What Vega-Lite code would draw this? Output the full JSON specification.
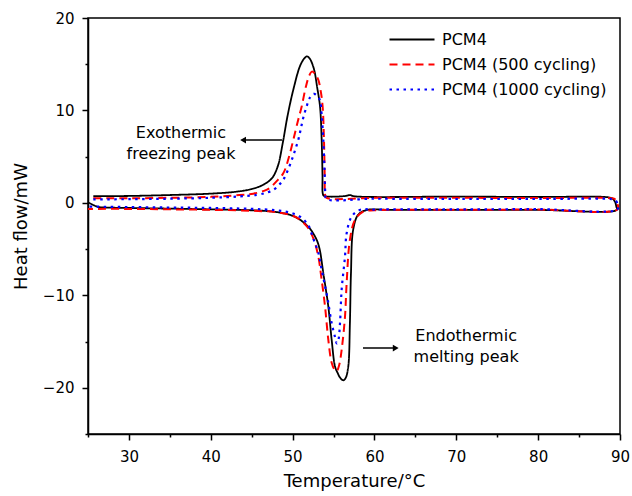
{
  "$schema": "https://vega.github.io/schema/vega-lite/v6.json",
  "width": 532,
  "height": 416,
  "autosize": {"type": "none"},
  "padding": {"left": 88, "top": 18, "right": 12, "bottom": 62},
  "background": "white",
  "config": {
    "font": "DejaVu Sans",
    "view": {"stroke": "black", "strokeWidth": 1.5},
    "axis": {
      "grid": false,
      "domainColor": "black",
      "domainWidth": 1.5,
      "tickColor": "black",
      "tickWidth": 1.5,
      "labelColor": "black",
      "labelFont": "DejaVu Sans",
      "labelFontSize": 15,
      "titleColor": "black",
      "titleFont": "DejaVu Sans",
      "titleFontSize": 18,
      "titleFontWeight": "normal"
    }
  },
  "layer": [
    {
      "data": {
        "values": [
          {"s": "PCM4", "i": 1, "x": 25.65, "y": 0.72},
          {"s": "PCM4", "i": 2, "x": 30, "y": 0.75},
          {"s": "PCM4", "i": 3, "x": 35, "y": 0.85},
          {"s": "PCM4", "i": 4, "x": 40, "y": 1.0},
          {"s": "PCM4", "i": 5, "x": 43, "y": 1.2},
          {"s": "PCM4", "i": 6, "x": 45, "y": 1.5},
          {"s": "PCM4", "i": 7, "x": 46.5, "y": 2.0},
          {"s": "PCM4", "i": 8, "x": 47.5, "y": 2.7},
          {"s": "PCM4", "i": 9, "x": 48.2, "y": 4.0},
          {"s": "PCM4", "i": 10, "x": 48.8, "y": 6.5},
          {"s": "PCM4", "i": 11, "x": 49.4, "y": 9.5},
          {"s": "PCM4", "i": 12, "x": 50.1, "y": 12.3},
          {"s": "PCM4", "i": 13, "x": 50.9, "y": 14.8},
          {"s": "PCM4", "i": 14, "x": 51.4, "y": 15.6},
          {"s": "PCM4", "i": 15, "x": 51.75, "y": 15.85},
          {"s": "PCM4", "i": 16, "x": 52.1, "y": 15.6},
          {"s": "PCM4", "i": 17, "x": 52.6, "y": 14.5},
          {"s": "PCM4", "i": 18, "x": 53.0, "y": 12.5},
          {"s": "PCM4", "i": 19, "x": 53.35, "y": 10.4},
          {"s": "PCM4", "i": 20, "x": 53.55, "y": 6.8},
          {"s": "PCM4", "i": 21, "x": 53.65, "y": 3.0},
          {"s": "PCM4", "i": 22, "x": 53.7, "y": 0.95},
          {"s": "PCM4", "i": 23, "x": 53.85, "y": 0.75},
          {"s": "PCM4", "i": 24, "x": 56.5, "y": 0.75},
          {"s": "PCM4", "i": 25, "x": 57.0, "y": 0.85},
          {"s": "PCM4", "i": 26, "x": 57.5, "y": 0.72},
          {"s": "PCM4", "i": 27, "x": 70, "y": 0.68},
          {"s": "PCM4", "i": 28, "x": 80, "y": 0.64},
          {"s": "PCM4", "i": 29, "x": 88.6, "y": 0.6},
          {"s": "PCM4", "i": 30, "x": 89.1, "y": 0.45},
          {"s": "PCM4", "i": 31, "x": 89.4, "y": 0.1},
          {"s": "PCM4", "i": 32, "x": 89.55, "y": -0.4},
          {"s": "PCM4", "i": 33, "x": 89.6, "y": -0.76},
          {"s": "PCM4", "i": 34, "x": 80, "y": -0.76},
          {"s": "PCM4", "i": 35, "x": 70, "y": -0.76},
          {"s": "PCM4", "i": 36, "x": 62, "y": -0.76},
          {"s": "PCM4", "i": 37, "x": 59.0, "y": -0.78},
          {"s": "PCM4", "i": 38, "x": 58.0, "y": -1.3},
          {"s": "PCM4", "i": 39, "x": 57.4, "y": -2.9},
          {"s": "PCM4", "i": 40, "x": 57.13, "y": -7.6},
          {"s": "PCM4", "i": 41, "x": 57.0, "y": -13.0},
          {"s": "PCM4", "i": 42, "x": 56.8, "y": -17.7},
          {"s": "PCM4", "i": 43, "x": 56.5, "y": -18.9},
          {"s": "PCM4", "i": 44, "x": 56.2, "y": -19.2},
          {"s": "PCM4", "i": 45, "x": 55.8, "y": -18.9},
          {"s": "PCM4", "i": 46, "x": 55.5, "y": -18.4},
          {"s": "PCM4", "i": 47, "x": 55.18, "y": -17.7},
          {"s": "PCM4", "i": 48, "x": 54.77, "y": -14.8},
          {"s": "PCM4", "i": 49, "x": 54.36, "y": -11.2},
          {"s": "PCM4", "i": 50, "x": 53.75, "y": -7.6},
          {"s": "PCM4", "i": 51, "x": 53.3, "y": -5.0},
          {"s": "PCM4", "i": 52, "x": 52.94, "y": -4.0},
          {"s": "PCM4", "i": 53, "x": 52.3, "y": -3.0},
          {"s": "PCM4", "i": 54, "x": 51.7, "y": -2.4},
          {"s": "PCM4", "i": 55, "x": 50.7, "y": -1.7},
          {"s": "PCM4", "i": 56, "x": 49.7, "y": -1.3},
          {"s": "PCM4", "i": 57, "x": 47.6, "y": -0.94},
          {"s": "PCM4", "i": 58, "x": 45, "y": -0.8},
          {"s": "PCM4", "i": 59, "x": 43.5, "y": -0.76},
          {"s": "PCM4", "i": 60, "x": 40, "y": -0.7},
          {"s": "PCM4", "i": 61, "x": 35, "y": -0.62},
          {"s": "PCM4", "i": 62, "x": 30, "y": -0.55},
          {"s": "PCM4", "i": 63, "x": 27, "y": -0.5},
          {"s": "PCM4", "i": 64, "x": 26.3, "y": -0.45},
          {"s": "PCM4", "i": 65, "x": 25.7, "y": -0.25},
          {"s": "PCM4", "i": 66, "x": 25.1, "y": 0.02},

          {"s": "PCM4 (500 cycling)", "i": 1, "x": 25.65, "y": 0.5},
          {"s": "PCM4 (500 cycling)", "i": 2, "x": 30, "y": 0.5},
          {"s": "PCM4 (500 cycling)", "i": 3, "x": 35, "y": 0.55},
          {"s": "PCM4 (500 cycling)", "i": 4, "x": 40, "y": 0.65},
          {"s": "PCM4 (500 cycling)", "i": 5, "x": 43.5, "y": 0.85},
          {"s": "PCM4 (500 cycling)", "i": 6, "x": 45.2, "y": 1.0},
          {"s": "PCM4 (500 cycling)", "i": 7, "x": 46.5, "y": 1.3},
          {"s": "PCM4 (500 cycling)", "i": 8, "x": 47.2, "y": 1.6},
          {"s": "PCM4 (500 cycling)", "i": 9, "x": 48.0, "y": 2.3},
          {"s": "PCM4 (500 cycling)", "i": 10, "x": 48.86, "y": 3.2},
          {"s": "PCM4 (500 cycling)", "i": 11, "x": 49.5, "y": 4.8},
          {"s": "PCM4 (500 cycling)", "i": 12, "x": 50.08, "y": 6.8},
          {"s": "PCM4 (500 cycling)", "i": 13, "x": 50.6, "y": 8.7},
          {"s": "PCM4 (500 cycling)", "i": 14, "x": 51.1, "y": 10.4},
          {"s": "PCM4 (500 cycling)", "i": 15, "x": 51.6, "y": 12.5},
          {"s": "PCM4 (500 cycling)", "i": 16, "x": 52.0, "y": 13.7},
          {"s": "PCM4 (500 cycling)", "i": 17, "x": 52.35, "y": 14.2},
          {"s": "PCM4 (500 cycling)", "i": 18, "x": 52.7, "y": 14.0},
          {"s": "PCM4 (500 cycling)", "i": 19, "x": 53.14, "y": 13.3},
          {"s": "PCM4 (500 cycling)", "i": 20, "x": 53.45, "y": 12.0},
          {"s": "PCM4 (500 cycling)", "i": 21, "x": 53.67, "y": 10.4},
          {"s": "PCM4 (500 cycling)", "i": 22, "x": 53.83, "y": 6.8},
          {"s": "PCM4 (500 cycling)", "i": 23, "x": 53.92, "y": 3.0},
          {"s": "PCM4 (500 cycling)", "i": 24, "x": 53.96, "y": 1.0},
          {"s": "PCM4 (500 cycling)", "i": 25, "x": 54.1, "y": 0.57},
          {"s": "PCM4 (500 cycling)", "i": 26, "x": 60, "y": 0.55},
          {"s": "PCM4 (500 cycling)", "i": 27, "x": 70, "y": 0.55},
          {"s": "PCM4 (500 cycling)", "i": 28, "x": 80, "y": 0.52},
          {"s": "PCM4 (500 cycling)", "i": 29, "x": 89.0, "y": 0.5},
          {"s": "PCM4 (500 cycling)", "i": 30, "x": 89.4, "y": 0.4},
          {"s": "PCM4 (500 cycling)", "i": 31, "x": 89.65, "y": 0.0},
          {"s": "PCM4 (500 cycling)", "i": 32, "x": 89.7, "y": -0.7},
          {"s": "PCM4 (500 cycling)", "i": 33, "x": 80, "y": -0.72},
          {"s": "PCM4 (500 cycling)", "i": 34, "x": 70, "y": -0.75},
          {"s": "PCM4 (500 cycling)", "i": 35, "x": 60, "y": -0.8},
          {"s": "PCM4 (500 cycling)", "i": 36, "x": 58.63, "y": -0.94},
          {"s": "PCM4 (500 cycling)", "i": 37, "x": 57.62, "y": -1.84},
          {"s": "PCM4 (500 cycling)", "i": 38, "x": 57.0, "y": -4.0},
          {"s": "PCM4 (500 cycling)", "i": 39, "x": 56.6, "y": -8.7},
          {"s": "PCM4 (500 cycling)", "i": 40, "x": 56.4, "y": -12.3},
          {"s": "PCM4 (500 cycling)", "i": 41, "x": 55.99, "y": -15.9},
          {"s": "PCM4 (500 cycling)", "i": 42, "x": 55.7, "y": -17.5},
          {"s": "PCM4 (500 cycling)", "i": 43, "x": 55.38, "y": -18.2},
          {"s": "PCM4 (500 cycling)", "i": 44, "x": 55.1, "y": -18.0},
          {"s": "PCM4 (500 cycling)", "i": 45, "x": 54.77, "y": -17.3},
          {"s": "PCM4 (500 cycling)", "i": 46, "x": 54.36, "y": -14.8},
          {"s": "PCM4 (500 cycling)", "i": 47, "x": 53.96, "y": -11.2},
          {"s": "PCM4 (500 cycling)", "i": 48, "x": 53.5, "y": -8.0},
          {"s": "PCM4 (500 cycling)", "i": 49, "x": 53.14, "y": -5.8},
          {"s": "PCM4 (500 cycling)", "i": 50, "x": 52.6, "y": -4.0},
          {"s": "PCM4 (500 cycling)", "i": 51, "x": 51.8, "y": -2.6},
          {"s": "PCM4 (500 cycling)", "i": 52, "x": 50.7, "y": -1.7},
          {"s": "PCM4 (500 cycling)", "i": 53, "x": 49.7, "y": -1.3},
          {"s": "PCM4 (500 cycling)", "i": 54, "x": 48, "y": -1.0},
          {"s": "PCM4 (500 cycling)", "i": 55, "x": 45, "y": -0.85},
          {"s": "PCM4 (500 cycling)", "i": 56, "x": 40, "y": -0.75},
          {"s": "PCM4 (500 cycling)", "i": 57, "x": 35, "y": -0.7},
          {"s": "PCM4 (500 cycling)", "i": 58, "x": 30, "y": -0.65},
          {"s": "PCM4 (500 cycling)", "i": 59, "x": 25.0, "y": -0.65},

          {"s": "PCM4 (1000 cycling)", "i": 1, "x": 25.65, "y": 0.38},
          {"s": "PCM4 (1000 cycling)", "i": 2, "x": 30, "y": 0.4},
          {"s": "PCM4 (1000 cycling)", "i": 3, "x": 35, "y": 0.45},
          {"s": "PCM4 (1000 cycling)", "i": 4, "x": 40, "y": 0.55},
          {"s": "PCM4 (1000 cycling)", "i": 5, "x": 43.5, "y": 0.7},
          {"s": "PCM4 (1000 cycling)", "i": 6, "x": 45.6, "y": 0.86},
          {"s": "PCM4 (1000 cycling)", "i": 7, "x": 46.8, "y": 1.1},
          {"s": "PCM4 (1000 cycling)", "i": 8, "x": 47.64, "y": 1.4},
          {"s": "PCM4 (1000 cycling)", "i": 9, "x": 48.3, "y": 1.9},
          {"s": "PCM4 (1000 cycling)", "i": 10, "x": 48.86, "y": 2.5},
          {"s": "PCM4 (1000 cycling)", "i": 11, "x": 49.4, "y": 3.5},
          {"s": "PCM4 (1000 cycling)", "i": 12, "x": 49.88, "y": 4.6},
          {"s": "PCM4 (1000 cycling)", "i": 13, "x": 50.3, "y": 5.7},
          {"s": "PCM4 (1000 cycling)", "i": 14, "x": 50.69, "y": 6.8},
          {"s": "PCM4 (1000 cycling)", "i": 15, "x": 51.0, "y": 8.0},
          {"s": "PCM4 (1000 cycling)", "i": 16, "x": 51.3, "y": 9.2},
          {"s": "PCM4 (1000 cycling)", "i": 17, "x": 51.7, "y": 10.4},
          {"s": "PCM4 (1000 cycling)", "i": 18, "x": 52.12, "y": 11.4},
          {"s": "PCM4 (1000 cycling)", "i": 19, "x": 52.6, "y": 11.8},
          {"s": "PCM4 (1000 cycling)", "i": 20, "x": 53.0, "y": 11.6},
          {"s": "PCM4 (1000 cycling)", "i": 21, "x": 53.34, "y": 11.1},
          {"s": "PCM4 (1000 cycling)", "i": 22, "x": 53.55, "y": 9.5},
          {"s": "PCM4 (1000 cycling)", "i": 23, "x": 53.75, "y": 6.8},
          {"s": "PCM4 (1000 cycling)", "i": 24, "x": 53.9, "y": 3.5},
          {"s": "PCM4 (1000 cycling)", "i": 25, "x": 54.0, "y": 1.0},
          {"s": "PCM4 (1000 cycling)", "i": 26, "x": 54.1, "y": 0.45},
          {"s": "PCM4 (1000 cycling)", "i": 27, "x": 60, "y": 0.45},
          {"s": "PCM4 (1000 cycling)", "i": 28, "x": 70, "y": 0.42},
          {"s": "PCM4 (1000 cycling)", "i": 29, "x": 80, "y": 0.42},
          {"s": "PCM4 (1000 cycling)", "i": 30, "x": 89.0, "y": 0.4},
          {"s": "PCM4 (1000 cycling)", "i": 31, "x": 89.4, "y": 0.3},
          {"s": "PCM4 (1000 cycling)", "i": 32, "x": 89.65, "y": 0.0},
          {"s": "PCM4 (1000 cycling)", "i": 33, "x": 89.7, "y": -0.68},
          {"s": "PCM4 (1000 cycling)", "i": 34, "x": 80, "y": -0.68},
          {"s": "PCM4 (1000 cycling)", "i": 35, "x": 70, "y": -0.7},
          {"s": "PCM4 (1000 cycling)", "i": 36, "x": 60, "y": -0.72},
          {"s": "PCM4 (1000 cycling)", "i": 37, "x": 58.2, "y": -0.76},
          {"s": "PCM4 (1000 cycling)", "i": 38, "x": 57.2, "y": -1.5},
          {"s": "PCM4 (1000 cycling)", "i": 39, "x": 56.6, "y": -3.3},
          {"s": "PCM4 (1000 cycling)", "i": 40, "x": 56.4, "y": -5.8},
          {"s": "PCM4 (1000 cycling)", "i": 41, "x": 55.99, "y": -9.4},
          {"s": "PCM4 (1000 cycling)", "i": 42, "x": 55.79, "y": -13.0},
          {"s": "PCM4 (1000 cycling)", "i": 43, "x": 55.6, "y": -14.8},
          {"s": "PCM4 (1000 cycling)", "i": 44, "x": 55.4, "y": -15.2},
          {"s": "PCM4 (1000 cycling)", "i": 45, "x": 55.18, "y": -14.5},
          {"s": "PCM4 (1000 cycling)", "i": 46, "x": 54.77, "y": -13.0},
          {"s": "PCM4 (1000 cycling)", "i": 47, "x": 54.3, "y": -10.5},
          {"s": "PCM4 (1000 cycling)", "i": 48, "x": 53.96, "y": -9.0},
          {"s": "PCM4 (1000 cycling)", "i": 49, "x": 53.5, "y": -7.0},
          {"s": "PCM4 (1000 cycling)", "i": 50, "x": 53.14, "y": -5.4},
          {"s": "PCM4 (1000 cycling)", "i": 51, "x": 52.5, "y": -3.8},
          {"s": "PCM4 (1000 cycling)", "i": 52, "x": 51.9, "y": -2.4},
          {"s": "PCM4 (1000 cycling)", "i": 53, "x": 50.9, "y": -1.5},
          {"s": "PCM4 (1000 cycling)", "i": 54, "x": 49.68, "y": -1.05},
          {"s": "PCM4 (1000 cycling)", "i": 55, "x": 48, "y": -0.8},
          {"s": "PCM4 (1000 cycling)", "i": 56, "x": 45, "y": -0.65},
          {"s": "PCM4 (1000 cycling)", "i": 57, "x": 40, "y": -0.55},
          {"s": "PCM4 (1000 cycling)", "i": 58, "x": 35, "y": -0.5},
          {"s": "PCM4 (1000 cycling)", "i": 59, "x": 30, "y": -0.45},
          {"s": "PCM4 (1000 cycling)", "i": 60, "x": 25.0, "y": -0.4}
        ]
      },
      "mark": {"type": "line", "strokeCap": "butt", "strokeJoin": "round", "interpolate": "catmull-rom"},
      "encoding": {
        "x": {
          "field": "x", "type": "quantitative",
          "scale": {"domain": [25, 90], "nice": false, "zero": false},
          "axis": {
            "title": "Temperature/°C",
            "values": [25, 30, 35, 40, 45, 50, 55, 60, 65, 70, 75, 80, 85, 90],
            "labelExpr": "datum.value % 10 === 0 ? datum.label : ''",
            "tickSize": {"condition": {"test": "datum.value % 10 === 0", "value": 6}, "value": 3},
            "labelPadding": 9,
            "titlePadding": 8,
            "labelFlush": false
          }
        },
        "y": {
          "field": "y", "type": "quantitative",
          "scale": {"domain": [-25, 20], "nice": false, "zero": false},
          "axis": {
            "title": "Heat flow/mW",
            "values": [-25, -20, -15, -10, -5, 0, 5, 10, 15, 20],
            "labelExpr": "datum.value % 10 === 0 ? datum.label : ''",
            "tickSize": {"condition": {"test": "datum.value % 10 === 0", "value": 6}, "value": 3},
            "labelPadding": 8,
            "titlePadding": 12,
            "labelFlush": false
          }
        },
        "color": {
          "field": "s", "type": "nominal",
          "scale": {
            "domain": ["PCM4", "PCM4 (500 cycling)", "PCM4 (1000 cycling)"],
            "range": ["#000000", "#ff0000", "#0000ff"]
          },
          "legend": {
            "title": null,
            "orient": "none",
            "legendX": 300,
            "legendY": 9,
            "padding": 0,
            "symbolType": "stroke",
            "symbolSize": 2025,
            "symbolStrokeWidth": 2,
            "clipHeight": 25,
            "rowPadding": 0,
            "labelOffset": 6,
            "labelFont": "DejaVu Sans",
            "labelFontSize": 16,
            "labelColor": "black",
            "labelLimit": 300
          }
        },
        "strokeDash": {
          "field": "s", "type": "nominal",
          "scale": {
            "domain": ["PCM4", "PCM4 (500 cycling)", "PCM4 (1000 cycling)"],
            "range": [[1, 0], [8, 5], [2.5, 4.5]]
          }
        },
        "strokeWidth": {
          "field": "s", "type": "nominal",
          "scale": {
            "domain": ["PCM4", "PCM4 (500 cycling)", "PCM4 (1000 cycling)"],
            "range": [1.8, 2.2, 2.5]
          },
          "legend": null
        },
        "order": {"field": "i", "type": "quantitative"}
      }
    },
    {
      "data": {
        "values": [
          {"t": "Exothermic\nfreezing peak", "x": 36.36, "y": 7.6},
          {"t": "Endothermic\nmelting peak", "x": 71.2, "y": -14.35}
        ]
      },
      "mark": {"type": "text", "font": "DejaVu Sans", "fontSize": 16, "lineBreak": "\n", "lineHeight": 21.5, "align": "center", "baseline": "middle", "color": "black"},
      "encoding": {
        "x": {"field": "x", "type": "quantitative"},
        "y": {"field": "y", "type": "quantitative"},
        "text": {"field": "t"}
      }
    },
    {
      "data": {
        "values": [
          {"x": 43.8, "x2": 48.7, "y": 6.8},
          {"x": 58.6, "x2": 62.7, "y": -15.7}
        ]
      },
      "mark": {"type": "rule", "color": "black", "strokeWidth": 1.5},
      "encoding": {
        "x": {"field": "x", "type": "quantitative"},
        "x2": {"field": "x2"},
        "y": {"field": "y", "type": "quantitative"}
      }
    },
    {
      "data": {
        "values": [
          {"x": 43.95, "y": 6.8, "d": "left"},
          {"x": 62.6, "y": -15.7, "d": "right"}
        ]
      },
      "mark": {"type": "point", "filled": true, "color": "black", "opacity": 1, "size": 45},
      "encoding": {
        "x": {"field": "x", "type": "quantitative"},
        "y": {"field": "y", "type": "quantitative"},
        "shape": {
          "field": "d", "type": "nominal",
          "scale": {"domain": ["left", "right"], "range": ["triangle-left", "triangle-right"]},
          "legend": null
        }
      }
    }
  ]
}
